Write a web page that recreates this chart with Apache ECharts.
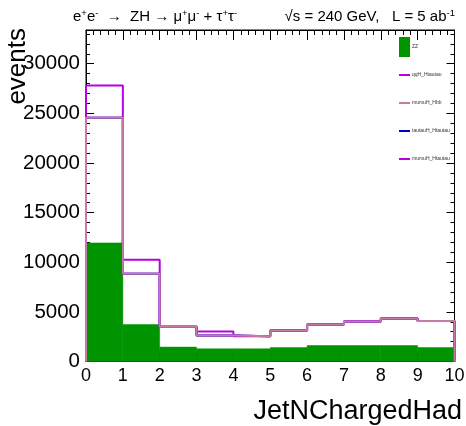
<!DOCTYPE html>
<html>
<head>
<meta charset="utf-8">
<script src="https://cdn.jsdelivr.net/npm/echarts@6/dist/echarts.min.js"></script>
<style>html,body{margin:0;padding:0;background:#fff;}#c{width:466px;height:426px;}</style>
</head>
<body>
<div id="c"></div>
<script>
// Bin edges (JetNChargedHad)
var binEdges = [0, 1, 2, 3, 4, 5, 6, 7, 8, 9, 10];
// Histogram contents per bin
var zz              = [11950, 3720, 1450, 1280, 1280, 1410, 1610, 1610, 1610, 1410];
var qqH_Htautau     = [24550, 8850, 3490, 2620, 2550, 3120, 3720, 4020, 4330, 4090];
var mumuH_Hbb       = [24550, 8850, 3490, 2620, 2550, 3120, 3720, 4020, 4330, 4090];
var tautauH_Htautau = [24550, 8850, 3490, 2620, 2550, 3120, 3720, 4020, 4330, 4090];
var mumuH_Htautau   = [27800, 10260, 3490, 3020, 2550, 3120, 3720, 4020, 4330, 4090];
var xTicks = [0, 1, 2, 3, 4, 5, 6, 7, 8, 9, 10];
var yTicks = [0, 5000, 10000, 15000, 20000, 25000, 30000];

function histPoints(vals) {
  var pts = [[binEdges[0], 0]];
  for (var i = 0; i < vals.length; i++) pts.push([binEdges[i], vals[i]]);
  pts.push([binEdges[binEdges.length - 1], vals[vals.length - 1]]);
  pts.push([binEdges[binEdges.length - 1], 0]);
  return pts;
}
function barData(vals) {
  var d = [];
  for (var i = 0; i < vals.length; i++) d.push([binEdges[i], binEdges[i + 1], vals[i]]);
  return d;
}

var C_GREEN = '#009400', C_PINK = '#c47ca4', C_MAG = '#b800e0', C_BLUE = '#0000c8';
var LINE_ICON = 'path://M0,0 M0,9 L11,9 L11,11 L0,11 Z M11,20';

function lineSeries(name, vals, color, z) {
  return {
    name: name, type: 'line', step: 'end', data: histPoints(vals),
    showSymbol: false, symbol: 'none', z: z, animation: false,
    lineStyle: { color: color, width: 2 }, itemStyle: { color: color }
  };
}

var chart = echarts.init(document.getElementById('c'), null, { renderer: 'canvas' });
var tickLabelFmt = function (v) { return xTicks.indexOf(v) >= 0 ? String(v) : ''; };
var yLabelFmt = function (v) { return yTicks.indexOf(v) >= 0 ? String(v) : ''; };

function axisCommon(extra) {
  var base = {
    axisLine: { show: true, onZero: false, lineStyle: { color: '#000', width: 1 } },
    splitLine: { show: false }
  };
  for (var k in extra) base[k] = extra[k];
  return base;
}

var option = {
  animation: false,
  backgroundColor: '#fff',
  grid: { left: 86, right: 11.5, top: 30, bottom: 64.5, show: true, borderColor: '#000', borderWidth: 1, backgroundColor: 'transparent', outerBoundsMode: 'none' },
  xAxis: [axisCommon({
    type: 'value', min: 0, max: 10, interval: 1, position: 'bottom',
    axisTick: { show: true, inside: true, length: 10, lineStyle: { color: '#000' } },
    minorTick: { show: true, splitNumber: 5, length: 5, lineStyle: { color: '#000' } },
    axisLabel: { fontSize: 18, color: '#000', margin: 6, fontFamily: 'Liberation Sans', formatter: tickLabelFmt }
  }), axisCommon({
    type: 'value', min: 0, max: 10, interval: 1, position: 'top',
    axisTick: { show: true, inside: true, length: 10, lineStyle: { color: '#000' } },
    minorTick: { show: true, splitNumber: 5, length: 5, lineStyle: { color: '#000' } },
    axisLabel: { show: false }
  })],
  yAxis: [axisCommon({
    type: 'value', min: 0, max: 33400, interval: 5000, position: 'left',
    name: 'events', nameLocation: 'end', nameRotate: 90, nameGap: 2, nameMoveOverlap: false,
    nameTextStyle: { fontSize: 26, color: '#000', fontFamily: 'Liberation Sans', align: 'right', verticalAlign: 'bottom', padding: [0, 0, 55, 0] },
    axisTick: { show: true, inside: true, length: 8, lineStyle: { color: '#000' } },
    minorTick: { show: true, splitNumber: 5, length: 4, lineStyle: { color: '#000' } },
    axisLabel: { fontSize: 20.5, color: '#000', margin: 6, fontFamily: 'Liberation Sans', formatter: yLabelFmt, showMaxLabel: false }
  }), axisCommon({
    type: 'value', min: 0, max: 33400, interval: 5000, position: 'right',
    axisTick: { show: true, inside: true, length: 8, lineStyle: { color: '#000' } },
    minorTick: { show: true, splitNumber: 5, length: 4, lineStyle: { color: '#000' } },
    axisLabel: { show: false }
  })],
  legend: {
    orient: 'vertical', left: 399, top: 37, itemWidth: 11, itemHeight: 20, itemGap: 8,
    padding: 0, selectedMode: false,
    textStyle: { fontSize: 5, color: '#333', fontFamily: 'Liberation Sans', padding: [0, 0, 0, -3] },
    data: [
      { name: 'ZZ', icon: 'rect' },
      { name: 'qqH_Htautau', icon: LINE_ICON },
      { name: 'mumuH_Hbb', icon: LINE_ICON },
      { name: 'tautauH_Htautau', icon: LINE_ICON },
      { name: 'mumuH_Htautau', icon: LINE_ICON }
    ]
  },
  series: [
    {
      name: 'ZZ', type: 'custom', data: barData(zz), z: 1,
      itemStyle: { color: C_GREEN },
      encode: { x: [0, 1], y: 2 },
      renderItem: function (params, api) {
        var p0 = api.coord([api.value(0), 0]);
        var p1 = api.coord([api.value(1), api.value(2)]);
        return {
          type: 'rect',
          shape: { x: p0[0], y: p1[1], width: p1[0] - p0[0], height: p0[1] - p1[1] },
          style: { fill: C_GREEN, stroke: C_GREEN, lineWidth: 0.5 }
        };
      }
    },
    lineSeries('qqH_Htautau', qqH_Htautau, C_MAG, 2),
    lineSeries('tautauH_Htautau', tautauH_Htautau, C_BLUE, 3),
    lineSeries('mumuH_Htautau', mumuH_Htautau, C_MAG, 4),
    lineSeries('mumuH_Hbb', mumuH_Hbb, C_PINK, 5)
  ],
  graphic: [
    {
      type: 'text', left: 73, top: 8,
      style: {
        text: '{m|e}{s|+}{m|e}{s|-}{m|  →  ZH → μ}{s|+}{m|μ}{s|-}{m| + τ}{s|+}{m|τ}{s|-}',
        rich: {
          m: { fontSize: 15, fontFamily: 'Liberation Sans', fill: '#000', lineHeight: 17 },
          s: { fontSize: 9.5, fontFamily: 'Liberation Sans', fill: '#000', verticalAlign: 'top', lineHeight: 17 }
        }
      }
    },
    {
      type: 'text', right: 11, top: 8,
      style: {
        text: '{m|√s = 240 GeV,   L = 5 ab}{s|-1}',
        rich: {
          m: { fontSize: 15, fontFamily: 'Liberation Sans', fill: '#000', lineHeight: 17 },
          s: { fontSize: 9.5, fontFamily: 'Liberation Sans', fill: '#000', verticalAlign: 'top', lineHeight: 17 }
        }
      }
    },
    {
      type: 'text', right: 4, top: 398,
      style: { text: 'JetNChargedHad', fontSize: 27, fontFamily: 'Liberation Sans', fill: '#000' }
    }
  ]
};
chart.setOption(option);
</script>
</body>
</html>
